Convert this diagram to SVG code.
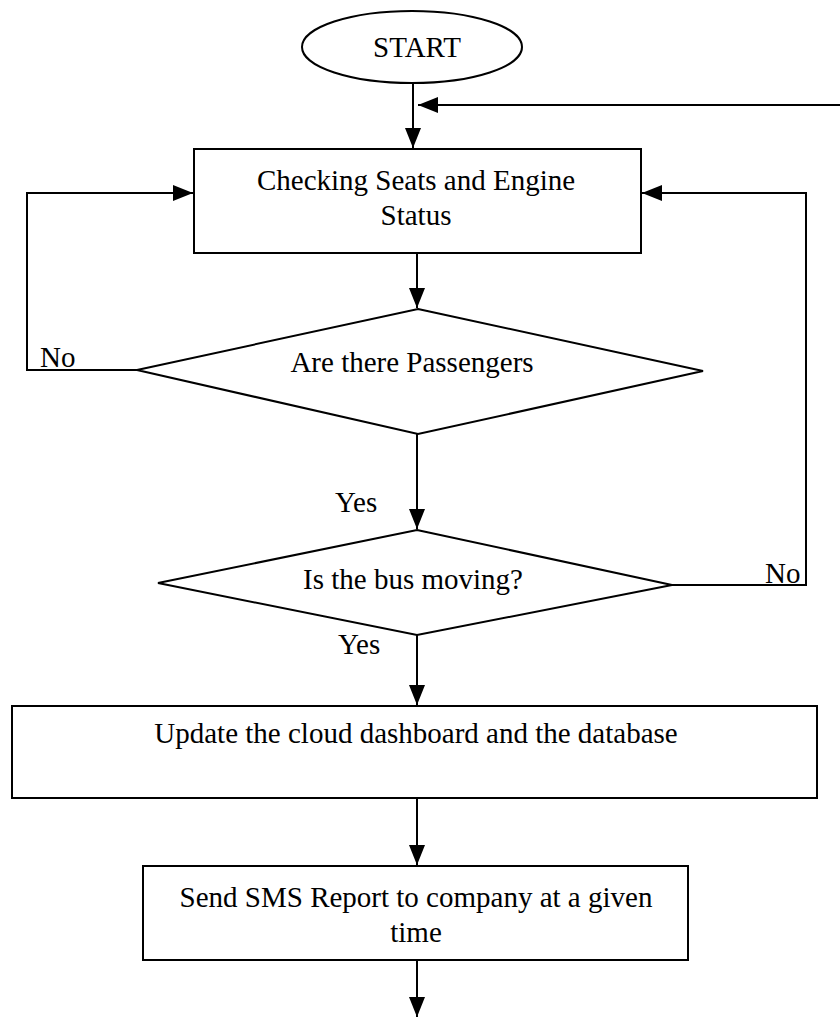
<svg xmlns="http://www.w3.org/2000/svg" width="840" height="1017" viewBox="0 0 840 1017">
<defs>
<style>
.shape{fill:#fff;stroke:#000;stroke-width:2}
.line{fill:none;stroke:#000;stroke-width:2}
text{font-family:"Liberation Serif","Times New Roman",serif;font-size:29px;fill:#000}
.c{text-anchor:middle}
</style>
<marker id="arr" markerUnits="userSpaceOnUse" markerWidth="22" markerHeight="18" refX="20" refY="8" orient="auto">
<path d="M0,0 L20,8 L0,16 Z" fill="#000"/>
</marker>
</defs>
<rect width="840" height="1017" fill="#fff"/>
<g id="connectors">
<line class="line" x1="413" y1="83" x2="413" y2="148" marker-end="url(#arr)"/>
<line class="line" x1="840" y1="105" x2="418" y2="105" marker-end="url(#arr)"/>
<line class="line" x1="417" y1="253" x2="417" y2="308" marker-end="url(#arr)"/>
<polyline class="line" points="137,370 27,370 27,193 193,193" marker-end="url(#arr)"/>
<line class="line" x1="417" y1="434" x2="417" y2="529" marker-end="url(#arr)"/>
<polyline class="line" points="672,585 806,585 806,193 642,193" marker-end="url(#arr)"/>
<line class="line" x1="417" y1="635" x2="417" y2="705" marker-end="url(#arr)"/>
<line class="line" x1="417" y1="798" x2="417" y2="865" marker-end="url(#arr)"/>
<line class="line" x1="417" y1="960" x2="417" y2="1017" marker-end="url(#arr)"/>
<text x="40" y="367">No</text>
<text x="765" y="583">No</text>
<text x="335" y="512">Yes</text>
<text x="338" y="654">Yes</text>
</g>
<g id="start">
<ellipse class="shape" cx="412" cy="47" rx="110" ry="36"/>
<text class="c" x="417" y="57">START</text>
</g>
<g id="check">
<rect class="shape" x="194" y="149" width="447" height="104"/>
<text class="c" x="416" y="190">Checking Seats and Engine</text>
<text class="c" x="416" y="225">Status</text>
</g>
<g id="passengers">
<polygon class="shape" points="418,309 703,371 418,434 137,370"/>
<text class="c" x="412" y="372">Are there Passengers</text>
</g>
<g id="moving">
<polygon class="shape" points="417,530 672,585 417,635 158,583"/>
<text class="c" x="413" y="589">Is the bus moving?</text>
</g>
<g id="update">
<rect class="shape" x="12" y="706" width="805" height="92"/>
<text class="c" x="416" y="743">Update the cloud dashboard and the database</text>
</g>
<g id="sms">
<rect class="shape" x="143" y="866" width="545" height="94"/>
<text class="c" x="416" y="907">Send SMS Report to company at a given</text>
<text class="c" x="416" y="942">time</text>
</g>
</svg>
